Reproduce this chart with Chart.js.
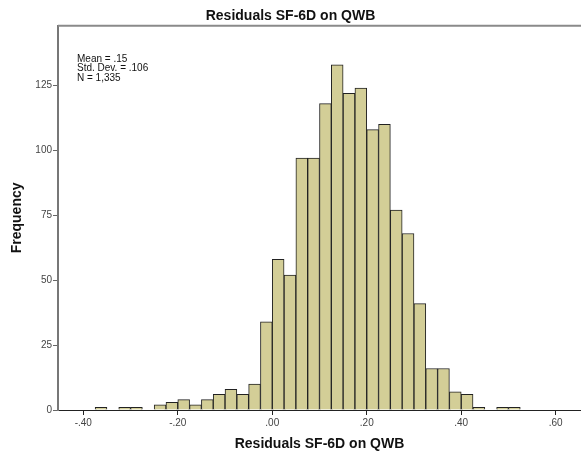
<!DOCTYPE html>
<html>
<head>
<meta charset="utf-8">
<script src="https://cdn.jsdelivr.net/npm/chart.js@4.4.0/dist/chart.umd.min.js"></script>
<style>
    html, body { margin: 0; padding: 0; background: #fff; }
    #wrap { width: 581px; height: 459px; }
</style>
</head>
<body>
<div id="wrap"><canvas id="histChart"></canvas></div>
<script>
// bin lower edges (width .025) and frequencies
const binWidth = 0.025;
const binStarts = [
    -0.375, -0.35, -0.325, -0.30, -0.275, -0.25, -0.225, -0.20, -0.175, -0.15,
    -0.125, -0.10, -0.075, -0.05, -0.025, 0.00, 0.025, 0.05, 0.075, 0.10,
    0.125, 0.15, 0.175, 0.20, 0.225, 0.25, 0.275, 0.30, 0.325, 0.35,
    0.375, 0.40, 0.425, 0.45, 0.475, 0.50
];
const frequencies = [
    1, 0, 1, 1, 0, 2, 3, 4, 2, 4,
    6, 8, 6, 10, 34, 58, 52, 97, 97, 118,
    133, 122, 124, 108, 110, 77, 68, 41, 16, 16,
    7, 6, 1, 0, 1, 1
];
const yTicks = [0, 25, 50, 75, 100, 125];
const xTicks = [-0.40, -0.20, 0.00, 0.20, 0.40, 0.60];
const statLines = ['Mean = .15', 'Std. Dev. = .106', 'N = 1,335'];

const fmt = v => {
    const s = Number(v).toFixed(2);
    return s.replace(/^(-?)0\./, '$1.');
};

const points = binStarts.map((b, i) => ({
    x: b + binWidth / 2,
    y: frequencies[i] === 0 ? null : frequencies[i]
}));

const framePlugin = {
    id: 'frame',
    afterDraw(chart) {
        const { ctx, chartArea } = chart;
        ctx.save();
        // top border of the plot frame
        ctx.strokeStyle = '#8a8a8a';
        ctx.lineWidth = 2;
        ctx.beginPath();
        ctx.moveTo(chartArea.left, chartArea.top);
        ctx.lineTo(chartArea.right, chartArea.top);
        ctx.stroke();
        // summary statistics
        ctx.fillStyle = '#111';
        ctx.font = '10px "Liberation Sans", Arial, sans-serif';
        ctx.textBaseline = 'middle';
        statLines.forEach((t, i) => {
            ctx.fillText(t, chartArea.left + 19, chartArea.top + 33 + i * 9.5);
        });
        ctx.restore();
    }
};

const ctx = document.getElementById('histChart').getContext('2d');
new Chart(ctx, {
    type: 'bar',
    data: {
        datasets: [{
            data: points,
            backgroundColor: 'rgb(211, 206, 151)',
            borderColor: '#222',
            borderWidth: 1,
            borderSkipped: 'start',
            barPercentage: 1,
            categoryPercentage: 1
        }]
    },
    options: {
        responsive: true,
        maintainAspectRatio: false,
        animation: false,
        layout: { padding: 0 },
        scales: {
            x: {
                type: 'linear',
                offset: false,
                min: -0.4536,
                max: 0.6536,
                afterFit: (scale) => { scale.height = 49; },
                afterBuildTicks: (scale) => {
                    scale.ticks = xTicks.map(v => ({ value: v }));
                },
                grid: {
                    offset: false,
                    drawOnChartArea: false,
                    drawTicks: true,
                    tickLength: 5,
                    tickWidth: 1,
                    tickColor: '#222'
                },
                border: { display: true, color: '#222', width: 1 },
                ticks: {
                    autoSkip: false,
                    maxRotation: 0,
                    padding: 2,
                    color: '#444',
                    font: { family: '"Liberation Sans", Arial, sans-serif', size: 10 },
                    callback: (v) => fmt(v)
                },
                title: {
                    display: true,
                    text: 'Residuals SF-6D on QWB',
                    color: '#111',
                    font: { family: '"Liberation Sans", Arial, sans-serif', size: 14, weight: 'bold' },
                    padding: { top: 0, bottom: 6 }
                }
            },
            y: {
                min: 0,
                max: 148,
                afterFit: (scale) => { scale.width = 58; },
                afterBuildTicks: (scale) => {
                    scale.ticks = yTicks.map(v => ({ value: v }));
                },
                grid: {
                    drawOnChartArea: false,
                    drawTicks: true,
                    tickLength: 5,
                    tickColor: '#666'
                },
                border: { display: true, color: '#777', width: 2 },
                ticks: {
                    padding: 1,
                    color: '#444',
                    font: { family: '"Liberation Sans", Arial, sans-serif', size: 10 }
                },
                title: {
                    display: true,
                    text: 'Frequency',
                    color: '#111',
                    font: { family: '"Liberation Sans", Arial, sans-serif', size: 14, weight: 'bold' },
                    padding: { top: 9, bottom: 0 }
                }
            }
        },
        plugins: {
            legend: { display: false },
            tooltip: { enabled: false },
            title: {
                display: true,
                text: 'Residuals SF-6D on QWB',
                color: '#111',
                font: { family: '"Liberation Sans", Arial, sans-serif', size: 14, weight: 'bold' },
                padding: { top: 8, bottom: 1 }
            }
        }
    },
    plugins: [framePlugin]
});
</script>
</body>
</html>
